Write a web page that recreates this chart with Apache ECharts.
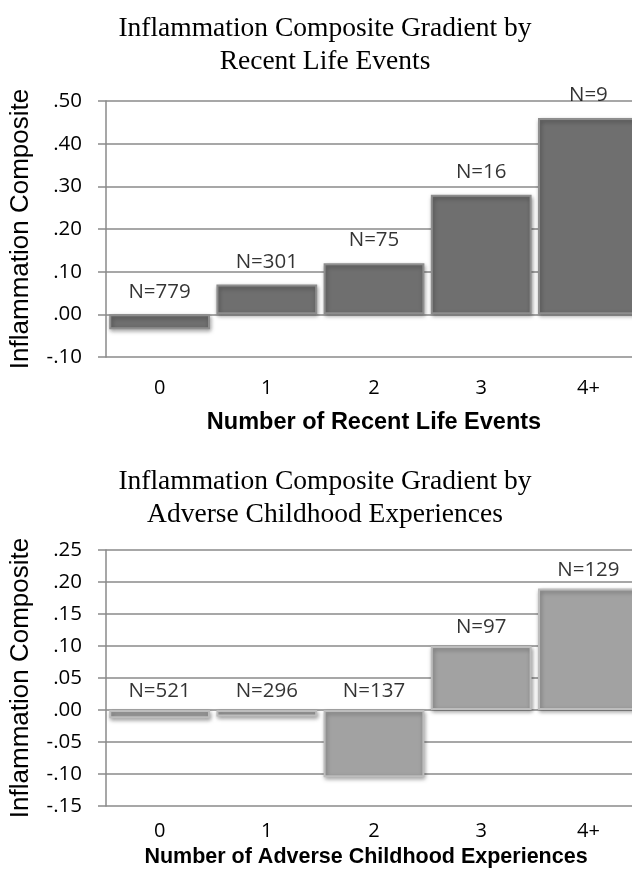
<!DOCTYPE html>
<html>
<head>
<meta charset="utf-8">
<script src="https://cdn.jsdelivr.net/npm/echarts@6/dist/echarts.min.js"></script>
<style>html,body{margin:0;padding:0;background:#fff;}#c{width:632px;height:882px;}</style>
</head>
<body>
<div id="c"></div>
<script>
var categories = ['0', '1', '2', '3', '4+'];
var lifeEventValues = [-0.035, 0.07, 0.12, 0.28, 0.46];
var lifeEventN = [779, 301, 75, 16, 9];
var aceValues = [-0.013, -0.01, -0.105, 0.10, 0.19];
var aceN = [521, 296, 137, 97, 129];
var lifeTicks = { min: -0.1, max: 0.5, interval: 0.1 };
var aceTicks = { min: -0.15, max: 0.25, interval: 0.05 };

var chart = echarts.init(document.getElementById('c'));
var gridColor = '#8a8a8a';
function fmt(v) { return v.toFixed(2).replace('0.', '.'); }

function yAxis(idx, t) {
  return {
    type: 'value', gridIndex: idx, min: t.min, max: t.max, interval: t.interval,
    name: 'Inflammation Composite', nameLocation: 'middle', nameGap: 72, nameRotate: 90,
    nameTextStyle: { fontFamily: 'Liberation Sans', fontSize: 26, color: '#000' },
    axisLine: { show: true, lineStyle: { color: gridColor, width: 1.5 } },
    axisTick: { show: true, length: 8, lineStyle: { color: gridColor, width: 1.5 } },
    splitLine: { show: true, lineStyle: { color: gridColor, width: 1.5 } },
    axisLabel: { formatter: fmt, margin: 24, fontFamily: 'Open Sans', fontSize: 20.5, color: '#000' }
  };
}
function xAxis(idx, name, margin, gap, size, pad) {
  return {
    type: 'category', gridIndex: idx, data: categories,
    name: name, nameLocation: 'middle', nameGap: gap,
    nameTextStyle: { fontFamily: 'Liberation Sans', fontWeight: 'bold', fontSize: size, color: '#000', padding: pad },
    axisLine: { show: false }, axisTick: { show: false },
    axisLabel: { margin: margin, fontFamily: 'Open Sans', fontSize: 20, color: '#000' }
  };
}
function barSeries(idx, vals, col, border) {
  return {
    type: 'bar', xAxisIndex: idx, yAxisIndex: idx, data: vals, barWidth: '94%',
    itemStyle: { color: col, borderColor: border, borderWidth: 2,
      shadowColor: 'rgba(0,0,0,0.35)', shadowBlur: 4, shadowOffsetX: 1, shadowOffsetY: 2 },
    silent: true
  };
}
function labelSeries(idx, vals, ns, dist) {
  return {
    type: 'scatter', xAxisIndex: idx, yAxisIndex: idx, symbolSize: 0, silent: true,
    data: vals.map(function (v, i) { return [i, Math.max(v, 0), ns[i]]; }),
    label: { show: true, position: 'top', distance: dist,
      formatter: function (p) { return 'N=' + p.data[2]; },
      fontFamily: 'Open Sans', fontSize: 20.5, color: '#000' }
  };
}

chart.setOption({
  animation: false,
  title: [
    { text: 'Inflammation Composite Gradient by\nRecent Life Events', left: 320, textAlign: 'center', top: 7,
      textStyle: { fontFamily: 'Liberation Serif', fontWeight: 'normal', fontSize: 27.5, lineHeight: 33, color: '#000' } },
    { text: 'Inflammation Composite Gradient by\nAdverse Childhood Experiences', left: 320, textAlign: 'center', top: 460,
      textStyle: { fontFamily: 'Liberation Serif', fontWeight: 'normal', fontSize: 27.5, lineHeight: 33, color: '#000' } }
  ],
  grid: [
    { left: 106, top: 101, height: 256, width: 536, outerBoundsMode: 'none', containLabel: false },
    { left: 106, top: 550, height: 256, width: 536, outerBoundsMode: 'none', containLabel: false }
  ],
  xAxis: [
    xAxis(0, 'Number of Recent Life Events', 21, 54, 23.5, [0, 0, 0, 0]),
    xAxis(1, 'Number of Adverse Childhood Experiences', 15, 40, 21.5, [0, 16, 0, 0])
  ],
  yAxis: [yAxis(0, lifeTicks), yAxis(1, aceTicks)],
  series: [
    barSeries(0, lifeEventValues, '#6f6f6f', '#8e8e8e'),
    barSeries(1, aceValues, '#a2a2a2', '#bdbdbd'),
    labelSeries(0, lifeEventValues, lifeEventN, 12),
    labelSeries(1, aceValues, aceN, 8)
  ]
});
</script>
</body>
</html>
